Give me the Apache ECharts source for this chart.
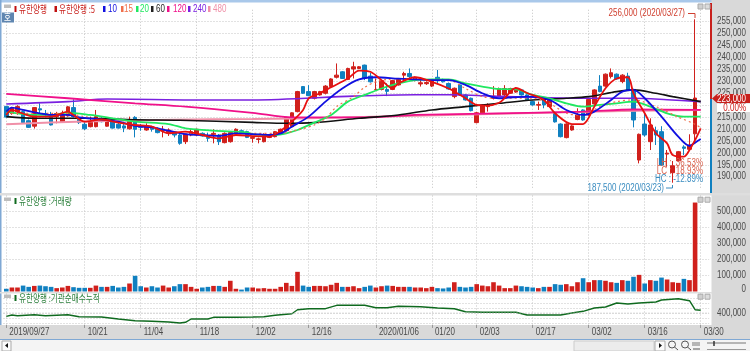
<!DOCTYPE html>
<html>
<head>
<meta charset="utf-8">
<style type="text/css">
    html, body { margin: 0; padding: 0; background: #fff; }
    #chart { width: 750px; height: 351px; }
</style>
<script src="https://cdn.jsdelivr.net/npm/echarts@6/dist/echarts.min.js"></script>
</head>
<body>
<div id="chart"></div>
<script>
    // prices, volume and net buying are all in thousands
    var opens = [219.5,216.5,217.3,217.3,213.5,211.2,218.5,216.5,215.8,215.2,213,215.5,219,214.9,212,211,211,214.5,211.2,213.1,
        212,211.3,210.1,214.9,211.3,209.6,211,210.3,209.3,208.5,208.5,207.5,204.7,207.5,207.5,208.2,206.5,207.5,207.5,204.3,
        204.7,208.2,209.3,208.9,206.1,205.6,204.7,206.5,206.8,207.9,209.3,211,217.3,227.8,225.7,222.9,224.3,225,227.8,231.7,
        234,230.8,235.2,235.4,236.8,232.2,226.4,226.6,226.6,226.6,228.5,232.6,233.3,230.5,228.9,229,228,231.7,230.8,229.1,
        223.6,228.5,224.3,222.9,212.7,216.8,219.4,222.9,223.8,224.3,225,225.5,226.4,224.3,221.5,220,222.2,219.4,217,212.1,
        206.4,209.6,214,218,215.9,220.5,228,228,232,233,229.9,232.2,226.6,197,212.1,204.7,209.3,208.9,199.5,191.7,
        196.7,202.5,201.5,208];
    var closes = [215,218.7,219.4,212.7,210.7,219,218,216,211.7,216.5,215.8,219.3,215.2,212.7,210.1,213.1,215.2,213.1,213.5,210.4,
        210.4,210.4,213.5,209.9,210.7,211.3,209.9,208.5,209.9,209.6,207.5,204,207.9,208.9,209.9,207.1,206.1,208.2,204.7,208.2,
        208.5,209.9,208.5,206.5,206.5,205.9,207.5,207.5,208.9,209.9,214.9,216.8,225.7,225,224,225.7,225.7,228,231,232.6,
        231.2,235.4,236.1,236.1,231.2,229.8,226.5,230.3,225.8,230.3,230.8,233.3,232,231.7,229.4,229.5,230.5,230.3,229.8,226.8,
        227.1,224.3,222.2,217.7,216.8,220.1,220.1,223.8,227,227,227,227,224.3,222.2,220.1,220.3,220.1,222.2,213,206.8,
        212.1,211.3,215.9,213.8,222.4,226.4,225.7,233,233.6,231,232.6,226.4,213.8,207.8,207.5,211.7,207.5,194.9,199.9,194.6,
        200.5,201.9,203.3,223];
    var lows = [214.9,216,216,212.1,210.5,210.2,216.5,214.9,211.5,212.4,212.7,215.2,214.9,212.1,209.6,210.7,210.7,212.8,211,210.2,
        210.2,208.7,209.8,206.5,209.3,209.3,208.9,208.2,206.5,207.1,206.5,203.4,203.7,207,207.1,206.8,204.7,204,203.3,204,
        204.3,207.9,208,206.2,204.3,204,204.4,206.2,206.5,207.6,209,210.7,217,224.7,223.8,222.4,224,224.5,227.5,231.2,
        231,230.5,231.2,235.2,230.5,229.5,226.2,226.2,223.8,226.3,228.2,230.5,230.5,230,227.8,228.5,227.6,229.1,229.5,226.5,
        222.9,224,221.9,217.4,212.4,216.5,217.3,222.4,223.4,223.5,224.7,225.2,224,221.9,219.8,218,218.7,219,212.7,206.5,
        206.1,209.3,213.7,213.5,215.6,220.2,225.4,227.7,231.2,230.7,229.2,226.1,210.7,195.6,206.8,201.2,203.3,194.6,194.2,187.5,
        196.4,199.1,201.2,205.4];
    var highs = [219.6,219.3,220,217.8,214,219.2,220.8,218,217.2,217.2,217.7,219.6,222.5,215.2,213.1,215.2,218,215,214.9,213.5,
        212.5,213.1,215.2,215.4,212.1,212.4,211.4,210.7,211.3,210.3,209,207.9,208.3,209.9,210.2,208.6,208.5,209.9,207.9,208.6,
        208.9,210.3,209.8,209.3,207,206.4,208.2,207.8,209.2,210.2,215.1,217,226,228,228.4,226,226,228.4,231.3,237.5,
        234.3,235.7,238.2,236.4,237,233.5,231.2,230.6,229.2,230.6,231.1,234,235.4,232,231.2,230,230.9,234.8,231.1,229.5,
        227.4,228.8,224.6,223.2,217.2,220.4,220.8,228,227.4,228.4,227.3,227.5,226.7,224.6,221.8,221.5,222.5,222.5,217.3,212.4,
        212.4,211.6,218.7,218.3,222.7,226.7,232.6,233.3,235.4,233.3,233,233.6,226.9,208.1,216.6,214.5,211,211.2,201.2,196.6,
        200.8,203.2,207.8,256];

    var volumes = [17,25,25,37,29,35,37,33,29,21,25,35,27,23,23,23,37,29,29,35,25,29,50,98,33,25,33,25,37,25,33,46,46,29,17,25,29,35,35,29,67,17,12,25,
        25,19,21,17,17,29,54,35,123,37,29,35,35,33,42,54,29,29,33,21,29,37,25,33,37,35,29,29,29,25,25,21,29,21,19,25,58,29,25,29,46,37,33,58,37,
        21,21,37,33,29,25,21,29,29,46,42,46,33,58,83,58,71,71,67,58,54,71,67,92,104,50,71,67,87,75,58,54,79,71,556];

    // moving averages as [candle index, price]
    var ma5 = [[0,215.9],[1,218],[2,217.3],[5,215.2],[8,215.2],[11,217.3],[12,215.9],[14,213.1],[17,214],[20,212.7],[23,211.7],[26,211],[29,208.2],[32,208.9],[35,207.5],[38,206.1],[41,207.5],[44,207],[47,206.8],[49,209.3],[51,213.1],[53,218],[54,222.9],[56,225],[58,227.5],[61,231.2],[63,234.5],[65,234],[67,230.5],[69,227],[70,229.1],[73,231.7],[76,229.8],[79,227],[82,222.9],[84,220.1],[86,219.8],[88,221],[89,223],[91,227.2],[93,225.1],[96,222.2],[98,216.6],[101,212.1],[103,212.1],[105,219.4],[107,227.1],[109,231.2],[111,231.7],[112,225],[114,216.6],[116,208.2],[118,204],[119,199.1],[121,198.4],[122,201.2],[123,205.4],[124,210.3]];
    var ma10 = [[0,217.3],[1,219],[3,218],[5,217],[8,215.9],[11,215.9],[13,214.9],[17,214],[20,213.1],[23,211.3],[26,210.7],[29,209.3],[32,207.9],[35,207.5],[38,207.1],[41,208.2],[44,207.9],[47,207.5],[49,208.2],[51,211],[54,215.2],[57,221.5],[60,227],[63,230.8],[66,231.7],[70,231.1],[73,230.8],[76,230.5],[79,230.5],[82,228.5],[85,225],[88,222.9],[93,223.6],[97,222.2],[100,218],[103,215.9],[105,217.3],[108,222.2],[110,225.7],[112,226.4],[114,222.9],[117,215.2],[120,206.8],[122,202.9],[123,204.3],[124,205.8]];
    var ma15 = [[0,216.6],[8,216.6],[10,216.6],[14,215.2],[17,213.8],[23,211.7],[29,209.2],[32,208.2],[36,207.5],[41,207.9],[44,208.2],[49,208.2],[52,209.6],[55,211.7],[57,214.5],[59,219.4],[62,223.6],[64,227.5],[66,229.8],[68,230.8],[73,231.2],[76,230.5],[79,230.5],[82,227],[85,223.6],[88,222.9],[94,222.9],[97,220.8],[100,216.6],[103,215.9],[106,219.4],[109,221.5],[112,222.2],[116,219.4],[120,215],[123,212],[124,210.5]];
    var ma20 = [[0,217.3],[5,215.9],[8,215.9],[11,216.9],[15,215.9],[19,214.5],[23,213.1],[29,212.1],[32,210.3],[37,209.3],[43,208.6],[44,207.8],[48,207.5],[50,208.2],[52,209.6],[55,212.7],[58,215.9],[61,221.5],[64,224.3],[67,227],[70,229.1],[73,230.5],[76,230.8],[79,230.8],[82,229.1],[85,227.8],[88,226.8],[91,226.6],[94,224.3],[97,222.9],[100,220.8],[103,219.4],[106,220.1],[109,220.8],[112,221.5],[115,219.4],[118,216.6],[121,215.2],[124,215.2]];
    var ma60 = [[0,215.2],[5,214.5],[14,214.5],[23,213.9],[31,213.7],[44,212.8],[50,212.4],[55,212.7],[63,214.5],[70,215.9],[76,218],[82,219.4],[88,220.8],[94,222.2],[100,222.9],[104,223.6],[109,225.7],[112,226.4],[116,225],[119,223.6],[124,221.5]];
    var ma120 = [[0,224.7],[11,222.9],[23,220.8],[32,219.4],[44,216.8],[51,214.9],[64,214.9],[73,215.9],[88,216.6],[103,217.3],[112,218.2],[124,218]];
    var ma240 = [[0,220.5],[11,221.5],[18,222.6],[34,222.2],[44,222.2],[62,223.8],[73,224.4],[79,224.4],[88,223.7],[94,223.3],[103,222.9],[112,222.9],[118,222.3],[124,221.5]];
    var ma480 = [[0,212],[14,213.2],[30,213.9],[44,214.2],[60,214.8],[75,215.7],[90,216.5],[110,217.6],[124,218]];

    var netBuying = [[0,366.7],[1,380],[2,373],[5,383],[7,373],[11,383],[13,363],[17,360],[20,340],[23,323],[26,317],[29,310],[31,300],[32,307],[33,340],[36,340],[37,357],[41,357],[44,360],[46,363],[48,377],[51,393],[52,433],[54,443],[57,443],[59,477],[64,477],[66,453],[68,453],[70,467],[74,463],[77,450],[80,443],[82,413],[85,407],[88,407],[91,407],[93,380],[99,380],[101,400],[103,417],[105,450],[107,460],[109,500],[111,490],[113,500],[116,510],[117,530],[120,543],[122,523],[123,433],[124,427]];

    var dateTicks = {0:'2019/09/27',14:'10/21',24:'11/04',34:'11/18',44:'12/02',54:'12/16',66:'2020/01/06',76:'01/20',84:'02/03',94:'02/17',104:'03/02',114:'03/16',124:'03/30'};
    var priceTicks = [190,195,200,205,210,215,220,225,230,235,240,245,250,255];
    var volumeTicks = [0,100,200,300,400,500];
    var netTicks = [400];
    var categoryCount = 126;

    var RED = '#d0201c', BLUE = '#1080c0', GREEN = '#0f6a1f', GRID = '#c4c4c4', TEXT = '#4a4a4a', BAND = '#d9d9d9';
    var NARROW = '"Liberation Sans",sans-serif';
    var KOREAN = '"Noto Sans CJK KR",sans-serif';

    var categories = [];
    for (var c = 0; c < categoryCount; c++) categories.push(dateTicks[c] || '');

    var candleData = opens.map(function (o, i) { return [o, closes[i], lows[i], highs[i]]; });
    var volumeData = volumes.map(function (v, i) {
        return { value: v, itemStyle: { color: closes[i] >= opens[i] ? RED : BLUE } };
    });

    function isTick(i) { return dateTicks[i] !== undefined; }

    function makeXAxis(gridIndex, showTicks) {
        return {
            type: 'category', gridIndex: gridIndex, data: categories,
            axisLine: { show: false },
            axisTick: { show: showTicks, interval: isTick, alignWithLabel: true, length: 3, lineStyle: { color: '#999' } },
            axisLabel: { show: false },
            splitLine: { show: true, interval: isTick, alignWithLabel: true, lineStyle: { color: GRID, type: [1, 2] } }
        };
    }

    function makeYAxis(gridIndex, min, max, interval) {
        var axis = {
            type: 'value', gridIndex: gridIndex, position: 'right', min: min, max: max,
            axisLine: { show: false }, axisTick: { show: false }, axisLabel: { show: false },
            splitLine: { showMinLine: false, showMaxLine: false, lineStyle: { color: GRID, type: [1, 2] } }
        };
        if (interval) axis.interval = interval;
        return axis;
    }

    function makeLine(data, color, width, dash) {
        return {
            type: 'line', xAxisIndex: 0, yAxisIndex: 0, data: data, smooth: 0.3, symbol: 'none', silent: true,
            lineStyle: { color: color, width: width, type: dash || 'solid' }
        };
    }

    function hangul(x, y, str, color, z) {
        return {
            type: 'text', x: x, y: y, scaleX: 0.76, z: z || 60,
            style: { text: str, fill: color, font: '10px ' + KOREAN, verticalAlign: 'middle' }
        };
    }
    // the original chart font is condensed, so squeeze the text sideways
    function narrow(x, y, str, color, align, z) {
        return {
            type: 'text', x: x, y: y, scaleX: 0.8, z: z || 60,
            style: { text: str, fill: color, font: '10px ' + NARROW, align: align || 'left', verticalAlign: 'middle' }
        };
    }
    function box(x, y, w, h, fill, z, stroke) {
        return { type: 'rect', z: z === undefined ? -10 : z, silent: true, shape: { x: x, y: y, width: w, height: h }, style: { fill: fill, stroke: stroke || null } };
    }
    function line(x1, y1, x2, y2, color, z, width) {
        return { type: 'line', z: z || 60, silent: true, shape: { x1: x1, y1: y1, x2: x2, y2: y2 }, style: { stroke: color, lineWidth: width || 1 } };
    }
    function legendEntry(markerX, textX, str, color) {
        return [box(markerX - 1, 6, 2.5, 6, color, 60), narrow(textX, 9.5, str, color)];
    }
    function panelButtons(y) {
        return [box(698, y - 2.5, 5, 5, '#cfcfcf', 60, '#aaa'), box(705, y - 2.5, 5, 5, '#dcdcdc', 60, '#aaa')];
    }
    function money(v) { return (v * 1000).toLocaleString('en-US'); }

    var graphics = [
        // window chrome
        box(0, 0, 750, 2.5, '#a9c8ea'),
        box(0, 0, 1.5, 340, '#7fa8d4'),
        box(711.5, 0, 38.5, 339, BAND),
        box(0, 193, 750, 2.5, '#dedede'),
        box(0, 292, 712, 1.5, '#dedede'),
        box(0, 325, 750, 14, BAND),
        box(0, 339, 750, 1, '#7fa8d4'),
        box(0, 340, 750, 11, '#f4f4f4'),
        line(711, 3, 711, 99, '#c8201c', 50, 2),
        line(711, 99, 711, 193, BLUE, 50, 2),
        // bottom toolbar
        box(2, 341, 9, 10, '#fafafa', 60, '#aaa'),
        { type: 'polygon', z: 61, shape: { points: [[5, 345.5], [8, 343], [8, 348]] }, style: { fill: '#111' } },
        box(574, 341, 80, 10, '#ececec', 60, '#ccc'),
        box(655, 341, 10, 10, '#fafafa', 60, '#aaa'),
        { type: 'polygon', z: 61, shape: { points: [[662, 345.5], [659, 343], [659, 348]] }, style: { fill: '#111' } },
        { type: 'circle', z: 60, shape: { cx: 672, cy: 344.5, r: 3.5 }, style: { fill: 'none', stroke: '#555' } },
        line(674.5, 347, 678, 350, '#555'),
        { type: 'circle', z: 60, shape: { cx: 685, cy: 344.5, r: 3.5 }, style: { fill: 'none', stroke: '#555' } },
        line(687.5, 347, 691, 350, '#555'),
        line(693, 342, 693, 346, '#777'), line(695, 342, 695, 346, '#777'), line(697, 342, 697, 346, '#777'), line(699, 342, 699, 346, '#777'),
        line(693, 349, 700, 349, '#555'),
        line(707, 343, 746, 343, '#777'), line(714, 341, 714, 346, '#333', 60, 1.5),
        line(707, 349.5, 746, 349.5, '#999'),
        // legends
        box(4, 4.5, 7, 3.5, '#bdbdbd', 60),
        box(2, 12.5, 12, 10, '#5f86b0', 60),
        hangul(4, 17.5, '호', '#ffffff'),
        box(14.5, 6, 2, 6, '#c01010', 60), hangul(19, 9.5, '유한양행', '#c8201c'),
        box(54.5, 6, 2.5, 6, '#c01010', 60), hangul(59, 9.5, '유한양행 :5', '#c8201c'),
        box(4, 197.5, 7, 3.5, '#bdbdbd', 60),
        box(14.5, 198, 2, 6, GREEN, 60), hangul(19, 201.5, '유한양행 :거래량', '#2a7f3a'),
        box(4, 294.5, 7, 3.5, '#bdbdbd', 60),
        box(14.5, 295, 2, 6, GREEN, 60), hangul(19, 298.5, '유한양행 :기관순매수누적', '#2a7f3a'),
        // current price tag
        { type: 'polygon', z: 70, shape: { points: [[712, 98.5], [717, 94], [750, 94], [750, 103], [717, 103]] }, style: { fill: '#c8201c' } },
        narrow(746, 98.8, '223,000', '#ffffff', 'right', 71),
        box(717, 103.5, 33, 8.5, '#ffffff', 70),
        narrow(746, 108, '0.00%', '#d0201c', 'right', 71),
        // range stats
        narrow(703, 163, 'LH :  36.53%', '#d8604c', 'right'),
        narrow(703, 171, 'LC :  18.93%', '#d8604c', 'right'),
        narrow(703, 179, 'HC : -12.89%', '#3a8cc0', 'right'),
        // high and low annotations
        narrow(685, 13.5, '256,000 (2020/03/27)', '#d04030', 'right'),
        line(688, 13.5, 695, 13.5, '#d04030'), line(695, 13.5, 695, 18, '#d04030'),
        narrow(664, 188, '187,500 (2020/03/23)', '#3a8cc0', 'right'),
        line(666, 188, 672.5, 188, '#3a8cc0'), line(672.5, 188, 672.5, 185, '#3a8cc0')
    ];
    [[104, 108, '10', '#1010e0'], [122, 124, '15', '#f0704c'], [137, 140, '20', '#20e860'], [152, 156, '60', '#222222'],
     [168, 173, '120', '#f0108a'], [189, 193, '240', '#7a20e0'], [209, 213, '480', '#f090a8']].forEach(function (e) {
        graphics = graphics.concat(legendEntry(e[0], e[1], e[2], e[3]));
    });
    [6.5, 199.7, 296.7].forEach(function (y) { graphics = graphics.concat(panelButtons(y)); });

    var option = {
        animation: false,
        backgroundColor: '#ffffff',
        grid: [
            { left: 3.5, width: 705.6, top: 9.77, height: 178.9 },
            { left: 3.5, width: 705.6, top: 195.5, height: 96 },
            { left: 3.5, width: 705.6, top: 293.5, height: 31.5 }
        ],
        xAxis: [makeXAxis(0, false), makeXAxis(1, false), makeXAxis(2, true)],
        yAxis: [makeYAxis(0, 185, 260, 5), makeYAxis(1, 0, 600, 100), makeYAxis(2, 280, 595)],
        series: [
            {
                type: 'candlestick', xAxisIndex: 0, yAxisIndex: 0, data: candleData, barWidth: 4, silent: true,
                itemStyle: { color: RED, color0: BLUE, borderColor: RED, borderColor0: BLUE, borderWidth: 1 }
            },
            makeLine(ma480, '#f090a8', 2),
            makeLine(ma240, '#7a20e0', 1.6),
            makeLine(ma120, '#f0108a', 1.8),
            makeLine(ma60, '#111111', 1.6),
            makeLine(ma20, '#20e860', 1.8),
            makeLine(ma15, '#f0704c', 1.2, [2, 3]),
            makeLine(ma10, '#1010e0', 1.8),
            makeLine(ma5, '#e81010', 1.8),
            {
                type: 'bar', xAxisIndex: 1, yAxisIndex: 1, data: volumeData, barWidth: 4.6, silent: true
            },
            {
                type: 'line', xAxisIndex: 2, yAxisIndex: 2, data: netBuying, symbol: 'none', silent: true,
                lineStyle: { color: GREEN, width: 1.4 }
            }
        ],
        graphic: { elements: graphics }
    };

    var myChart = echarts.init(document.getElementById('chart'));
    myChart.setOption(option);

    // tick labels go on afterwards, placed through the axes' own scales, so they can be condensed too
    priceTicks.forEach(function (v) {
        graphics.push(narrow(746, myChart.convertToPixel({ yAxisIndex: 0 }, v), money(v), TEXT, 'right', 40));
    });
    volumeTicks.forEach(function (v) {
        graphics.push(narrow(746, Math.min(myChart.convertToPixel({ yAxisIndex: 1 }, v), 289.5), money(v), TEXT, 'right', 40));
    });
    netTicks.forEach(function (v) {
        var y = myChart.convertToPixel({ yAxisIndex: 2 }, v);
        graphics.push(narrow(746, y, money(v), TEXT, 'right', 40));
        graphics.push(line(3.5, y, 709, y, GRID, 0));
        graphics[graphics.length - 1].style.lineDash = [1, 2];
    });
    Object.keys(dateTicks).forEach(function (i) {
        graphics.push(narrow(myChart.convertToPixel({ xAxisIndex: 2 }, +i) + 3, 332.5, dateTicks[i], TEXT, 'left', 40));
    });
    myChart.setOption({ graphic: { elements: graphics } });
</script>
</body>
</html>
